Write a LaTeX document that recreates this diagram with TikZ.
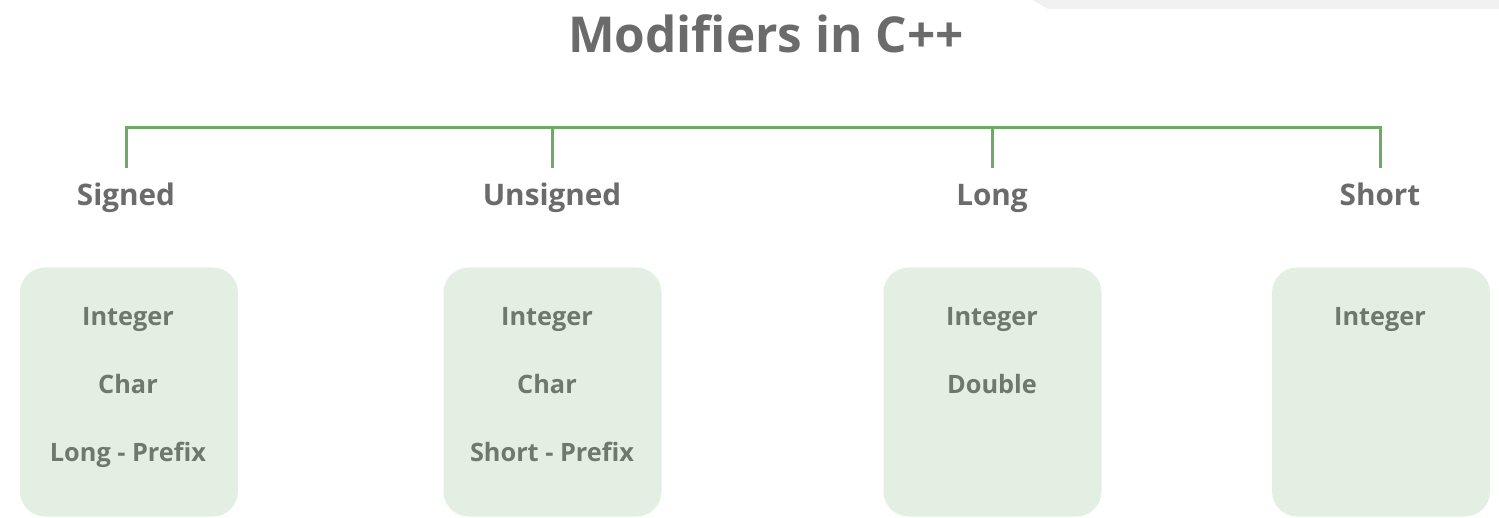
\documentclass[tikz,border=0pt]{standalone}
\usepackage{fontspec}
\setmainfont{Open Sans}
\usetikzlibrary{positioning}

\definecolor{titlegray}{HTML}{6B6B6B}
\definecolor{itemgray}{HTML}{6E786E}
\definecolor{boxgreen}{HTML}{E4EFE4}
\definecolor{linegreen}{HTML}{6AAD62}
\definecolor{bandgray}{HTML}{F1F1F1}

\begin{document}
\begin{tikzpicture}[x=1pt,y=-1pt,
    bar/.style={draw=linegreen,line width=3pt},
    kind/.style={text=titlegray,font=\fontsize{29.7}{32}\selectfont\bfseries,
                 text height=21.2pt,text depth=0pt,minimum height=54pt,inner sep=0pt},
    typebox/.style={fill=boxgreen,rounded corners=25pt,minimum width=218pt,
                    minimum height=249pt,inner sep=0pt},
    item/.style={text=itemgray,font=\fontsize{25.3}{27}\selectfont\bfseries,
                 text height=18pt,text depth=0pt,inner sep=0pt}]
  \useasboundingbox (0,0) rectangle (1499,518);
  \fill[bandgray] (1032,0) -- (1048,9) -- (1499,9) -- (1499,0) -- cycle;

  \node[text=titlegray,font=\fontsize{49.5}{52}\selectfont\bfseries,
        text height=35.3pt,text depth=0pt,inner sep=0pt] (title) at (766,35) {Modifiers in C++};

  % modifier names
  \node[kind] (signed)   at (126,195)  {Signed};
  \node[kind] (unsigned) at (552,195)  {Unsigned};
  \node[kind] (long)     at (992,195)  {Long};
  \node[kind] (short)    at (1380,195) {Short};

  \coordinate (top) at (0,128);
  \draw[bar] (signed.north) -- (signed.north |- top) -| (short.north);
  \draw[bar] (unsigned.north) -- (unsigned.north |- top);
  \draw[bar] (long.north) -- (long.north |- top);

  % boxes with the types
  \node[typebox] (signedbox)   at (129,392)    {};
  \node[typebox] (unsignedbox) at (552.5,392)  {};
  \node[typebox] (longbox)     at (992.5,392)  {};
  \node[typebox] (shortbox)    at (1381,392)   {};

  \node[item] (s1) at (128,317) {Integer};
  \node[item] (s2) at (128,385) {Char};
  \node[item] (s3) at (128,452) {Long - Prefix};

  \node[item] (u1) at (547,317) {Integer};
  \node[item] (u2) at (547,385) {Char};
  \node[item] (u3) at (552,452) {Short - Prefix};

  \node[item] (l1) at (992,317) {Integer};
  \node[item] (l2) at (992,385) {Double};

  \node[item] (h1) at (1380,317) {Integer};
\end{tikzpicture}
\end{document}
